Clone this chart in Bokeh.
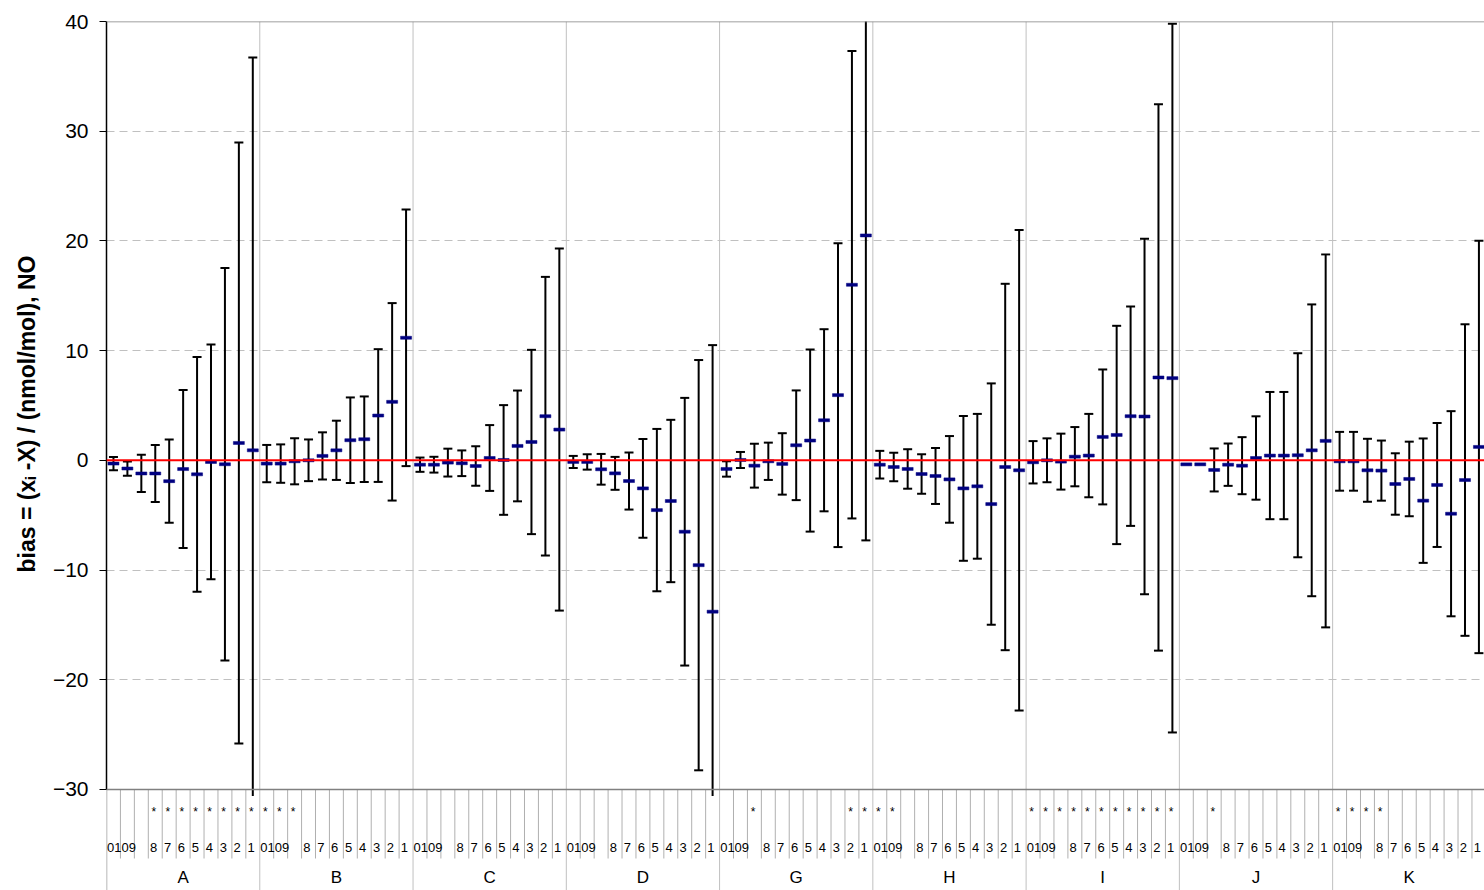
import numpy as np
from bokeh.plotting import figure
from bokeh.models import FixedTicker, Span, Title
from bokeh.core.properties import value
from bokeh.embed import file_html
from bokeh.resources import INLINE

# ---------------- data ----------------
groups = ["A", "B", "C", "D", "G", "H", "I", "J", "K"]
slot_labels = ["0", "10", "9", "8", "7", "6", "5", "4", "3", "2", "1"]

mean_A = [-0.30, -0.75, -1.20, -1.20, -1.90, -0.80, -1.28, -0.15, -0.36, 1.58, 0.91]
unc_A = [0.60, 0.65, 1.70, 2.60, 3.80, 7.20, 10.70, 10.70, 17.90, 27.40, 35.80]

mean_B = [-0.30, -0.30, -0.09, 0.00, 0.40, 0.91, 1.83, 1.92, 4.08, 5.33, 11.17]
unc_B = [1.70, 1.75, 2.10, 1.90, 2.15, 2.70, 3.90, 3.90, 6.05, 9.00, 11.70]

mean_C = [-0.40, -0.40, -0.21, -0.27, -0.52, 0.21, 0.03, 1.31, 1.67, 4.02, 2.80]
unc_C = [0.65, 0.72, 1.27, 1.17, 1.80, 3.00, 5.00, 5.05, 8.40, 12.70, 16.50]

mean_D = [-0.15, -0.15, -0.82, -1.19, -1.89, -2.56, -4.54, -3.71, -6.51, -9.56, -13.80]
unc_D = [0.55, 0.70, 1.40, 1.50, 2.60, 4.50, 7.40, 7.40, 12.20, 18.70, 24.30]

mean_G = [-0.79, 0.03, -0.49, -0.09, -0.33, 1.37, 1.80, 3.65, 5.94, 16.00, 20.50]
unc_G = [0.70, 0.73, 2.00, 1.70, 2.80, 5.00, 8.30, 8.30, 13.85, 21.30, 27.80]

mean_H = [-0.40, -0.61, -0.79, -1.25, -1.43, -1.74, -2.56, -2.37, -3.99, -0.61, -0.91]
unc_H = [1.26, 1.30, 1.80, 1.80, 2.55, 3.95, 6.60, 6.60, 11.00, 16.70, 21.90]

mean_I = [-0.18, 0.00, -0.12, 0.33, 0.43, 2.13, 2.31, 4.02, 3.99, 7.55, 7.49]
unc_I = [1.93, 2.00, 2.55, 2.70, 3.80, 6.15, 9.95, 10.00, 16.20, 24.90, 32.30]

mean_J = [-0.37, -0.37, -0.88, -0.40, -0.49, 0.21, 0.43, 0.43, 0.46, 0.91, 1.77]
unc_J = [0.00, 0.00, 1.96, 1.93, 2.60, 3.80, 5.80, 5.80, 9.30, 13.30, 17.00]

mean_K = [-0.09, -0.09, -0.91, -0.94, -2.16, -1.70, -3.68, -2.25, -4.87, -1.80, 1.22]
unc_K = [2.68, 2.68, 2.87, 2.74, 2.80, 3.40, 5.67, 5.65, 9.35, 14.20, 18.80]

star_A = [0, 0, 0, 1, 1, 1, 1, 1, 1, 1, 1]
star_B = [1, 1, 1, 0, 0, 0, 0, 0, 0, 0, 0]
star_C = [0, 0, 0, 0, 0, 0, 0, 0, 0, 0, 0]
star_D = [0, 0, 0, 0, 0, 0, 0, 0, 0, 0, 0]
star_G = [0, 0, 1, 0, 0, 0, 0, 0, 0, 1, 1]
star_H = [1, 1, 0, 0, 0, 0, 0, 0, 0, 0, 0]
star_I = [1, 1, 1, 1, 1, 1, 1, 1, 1, 1, 1]
star_J = [0, 0, 1, 0, 0, 0, 0, 0, 0, 0, 0]
star_K = [1, 1, 1, 1, 0, 0, 0, 0, 0, 0, 0]

y_ticks = [-30, -20, -10, 0, 10, 20, 30, 40]
y_label = "bias = (x\u1d62 -X) / (nmol/mol), NO"

means = [mean_A, mean_B, mean_C, mean_D, mean_G, mean_H, mean_I, mean_J, mean_K]
uncs = [unc_A, unc_B, unc_C, unc_D, unc_G, unc_H, unc_I, unc_J, unc_K]
stars = [star_A, star_B, star_C, star_D, star_G, star_H, star_I, star_J, star_K]

# ---------------- layout constants ----------------
FONT = "Liberation Sans"
n_slot = len(slot_labels)
n_grp = len(groups)
Y_TOP = 40
Y_AX = -30
PX_PER_UNIT = 10.97
W = 1484
H = 890
TOP = 21
LEFT = 106
Y_BOTTOM = Y_TOP - (H - TOP) / PX_PER_UNIT
X_END = 98.9

def ypix(page_y):
    # page pixel -> data value (frame top = page TOP)
    return Y_TOP - (page_y - TOP) / PX_PER_UNIT

# position of each number label inside its group (Excel's crowded placement)
label_pos = [0.30, 1.08, 1.86] + [k + 0.5 - 0.12 for k in range(3, n_slot)]

p = figure(width=W, height=H, x_range=(0, X_END), y_range=(Y_BOTTOM, Y_TOP),
           x_axis_type=None, output_backend="svg", toolbar_location=None,
           min_border_left=LEFT, min_border_top=TOP, min_border_bottom=0, min_border_right=0,
           outline_line_color=None, background_fill_color="white")

# y axis
ax = p.yaxis[0]
ax.ticker = FixedTicker(ticks=y_ticks)
ax.bounds = (Y_AX, Y_TOP)
ax.axis_line_color = "black"
ax.axis_line_width = 1.5
ax.major_tick_line_color = "black"
ax.major_tick_line_width = 1.2
ax.major_tick_out = 7
ax.major_tick_in = 0
ax.minor_tick_line_color = None
ax.major_label_text_font = FONT
ax.major_label_text_font_size = "21px"
ax.major_label_text_color = "black"
ax.major_label_standoff = 11

title = Title(text=y_label, align="left", offset=H - 572, standoff=20,
              text_font=FONT, text_font_size="23px", text_font_style="bold",
              text_color="black")
p.add_layout(title, "left")

g = p.ygrid[0]
g.grid_line_color = "#c0c0c0"
g.grid_line_dash = "8 5"
g.grid_line_width = 1
g.bounds = (Y_AX, Y_TOP)

# top border & category-axis line
p.add_layout(Span(location=Y_TOP, dimension="width", line_color="#808080", line_width=1.5))
p.add_layout(Span(location=Y_AX, dimension="width", line_color="#808080", line_width=1.5))

# vertical group separators (through plot and category area)
gb = [k * n_slot for k in range(1, n_grp)]
p.segment(x0=gb, x1=gb, y0=[Y_TOP] * len(gb), y1=[Y_BOTTOM] * len(gb),
          line_color="#c0c0c0", line_width=1)
p.segment(x0=[0], x1=[0], y0=[Y_AX], y1=[Y_BOTTOM], line_color="#a0a0a0", line_width=1.5)
# slot separators in category area
sb = [i for i in range(1, n_grp * n_slot + 1) if i % n_slot != 0]
p.segment(x0=sb, x1=sb, y0=[Y_AX] * len(sb), y1=[ypix(858)] * len(sb),
          line_color="#b0b0b0", line_width=1)

# zero line
p.add_layout(Span(location=0, dimension="width", line_color="#ff0000", line_width=2))

# data
xs, ms, us = [], [], []
for gi in range(n_grp):
    for k in range(n_slot):
        xs.append(gi * n_slot + k + 0.5)
        ms.append(means[gi][k])
        us.append(uncs[gi][k])
xs = np.array(xs); ms = np.array(ms); us = np.array(us)
lo = ms - us
hi = ms + us
has = us > 0
lo_c = np.maximum(lo, Y_AX - 0.6)
hi_c = np.minimum(hi, Y_TOP + 0.6)

p.segment(x0=xs[has], x1=xs[has], y0=lo_c[has], y1=hi_c[has], line_color="black", line_width=2)
cap_lo = has & (lo >= Y_AX)
cap_hi = has & (hi <= Y_TOP)
p.scatter(xs[cap_lo], lo[cap_lo], marker="dash", size=9, line_color="black", line_width=2)
p.scatter(xs[cap_hi], hi[cap_hi], marker="dash", size=9, line_color="black", line_width=2)

p.rect(x=xs, y=ms, width=11, height=3, width_units="screen", height_units="screen",
       fill_color="#000080", line_color="#000080", line_width=0.5)

# category-area texts
st_x, st_t = [], []
for gi in range(n_grp):
    for k in range(n_slot):
        if stars[gi][k]:
            st_x.append(gi * n_slot + k + 0.5 - 0.1)
            st_t.append("*")
p.text(x=st_x, y=[ypix(811)] * len(st_x), text=st_t, text_font=value(FONT),
       text_font_size="12px", text_align="center", text_baseline="middle", text_color="black")

nx, nt = [], []
for gi in range(n_grp):
    for k in range(n_slot):
        nx.append(gi * n_slot + label_pos[k])
        nt.append(slot_labels[k])
p.text(x=nx, y=[ypix(847)] * len(nx), text=nt, text_font=value(FONT),
       text_font_size="13px", text_align="center", text_baseline="middle", text_color="black")

gx = [gi * n_slot + n_slot / 2 for gi in range(n_grp)]
p.text(x=gx, y=[ypix(877)] * len(gx), text=groups, text_font=value(FONT),
       text_font_size="17px", text_align="center", text_baseline="middle", text_color="black")

open("out.html", "w").write(file_html(p, INLINE))
